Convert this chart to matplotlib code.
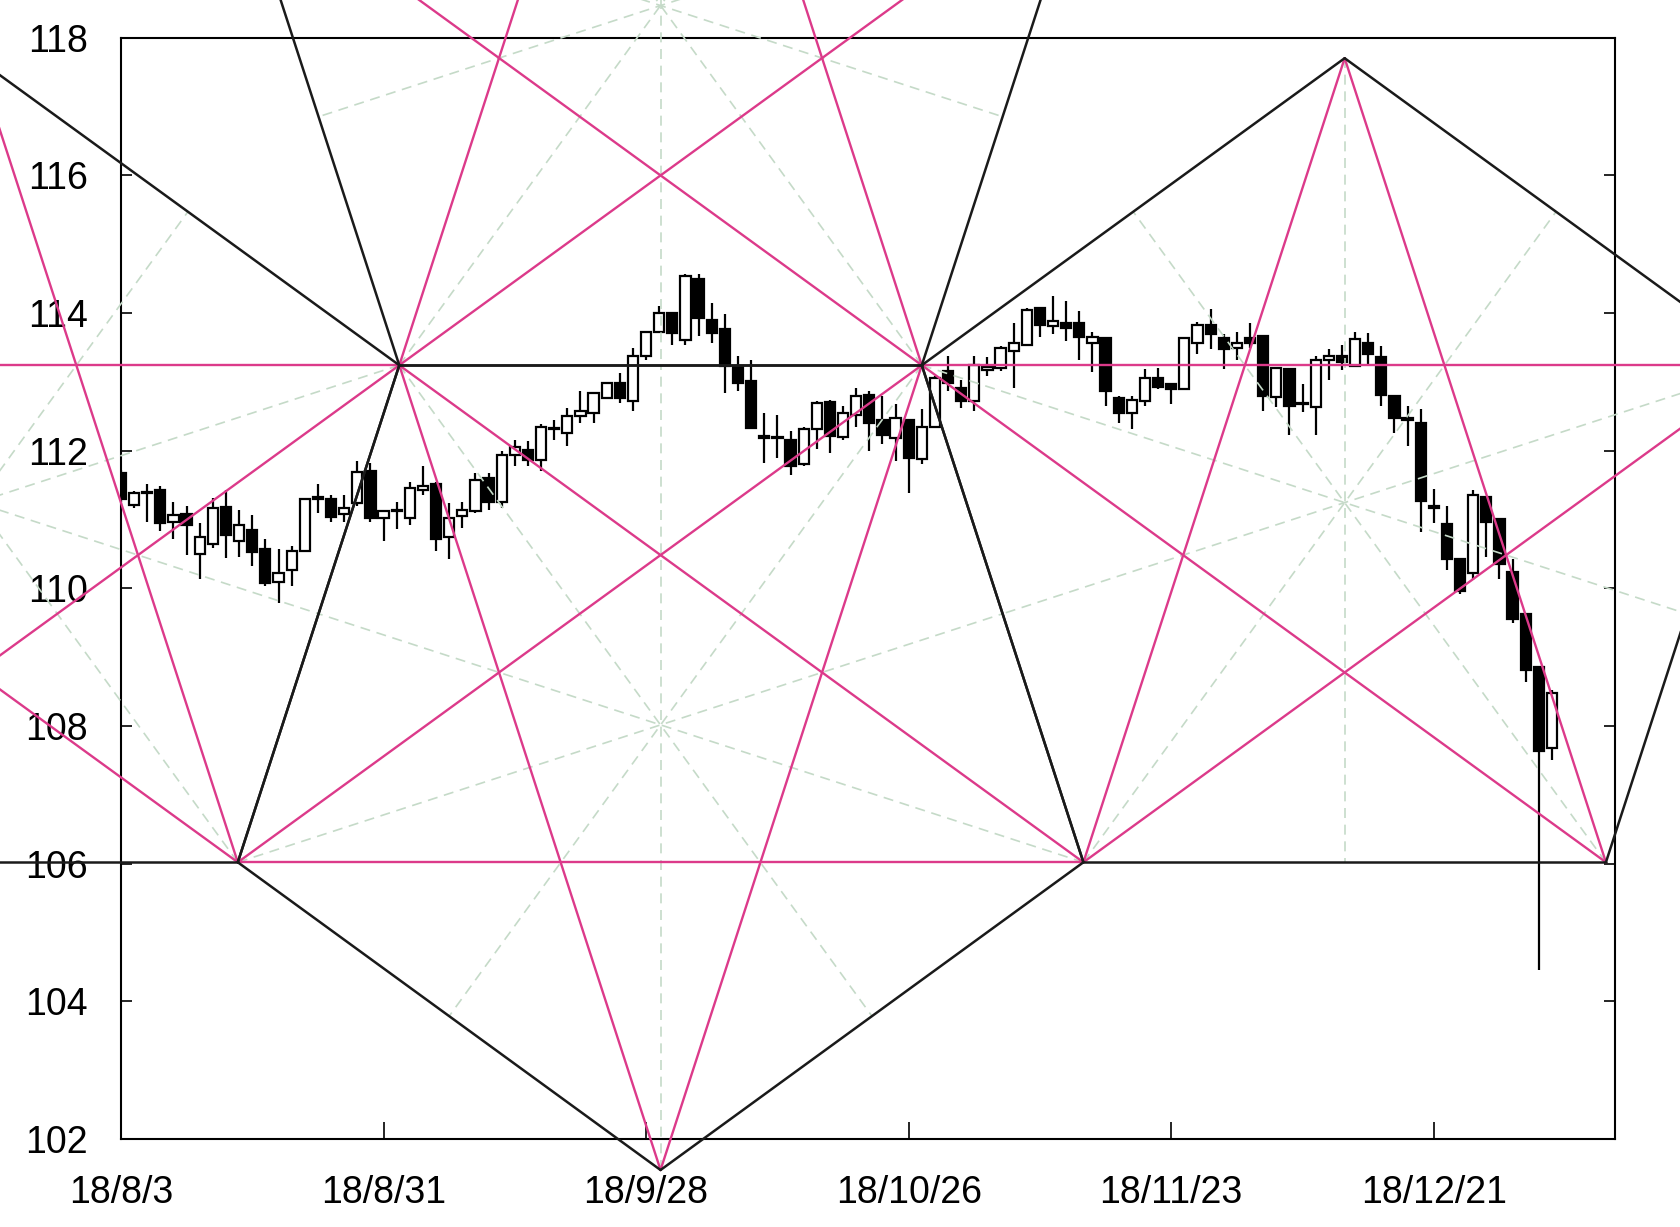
import matplotlib
matplotlib.use('Agg')
import matplotlib.pyplot as plt

# daily candles, USD/JPY, 18/8/3 .. 19/1/3 (one entry per trading day)
opens = [111.68, 111.21, 111.38, 111.43, 110.96, 111.08, 110.50, 110.65, 111.18, 110.69,
         110.84, 110.57, 110.09, 110.26, 110.54, 111.32, 111.30, 111.08, 111.24, 111.70,
         111.02, 111.12, 111.02, 111.43, 111.51, 110.75, 111.05, 111.12, 111.60, 111.26,
         111.93, 112.01, 111.87, 112.31, 112.26, 112.50, 112.55, 112.77, 112.98, 112.72,
         113.37, 113.73, 114.00, 113.61, 114.49, 113.90, 113.76, 113.23, 113.01, 112.21,
         112.19, 112.16, 111.80, 112.31, 112.70, 112.20, 112.51, 112.81, 112.45, 112.19,
         112.45, 111.88, 112.35, 113.15, 112.91, 112.72, 113.17, 113.20, 113.44, 113.53,
         114.07, 113.81, 113.86, 113.85, 113.57, 113.64, 112.77, 112.54, 112.72, 113.06,
         112.97, 112.90, 113.56, 113.82, 113.64, 113.49, 113.64, 113.66, 112.78, 113.19,
         112.68, 112.63, 113.31, 113.38, 113.23, 113.56, 113.36, 112.79, 112.47, 112.40,
         111.20, 110.93, 110.42, 110.22, 111.32, 111.00, 110.24, 109.62, 108.86, 107.68]
highs = [111.72, 111.42, 111.51, 111.48, 111.25, 111.19, 110.95, 111.31, 111.43, 111.13,
         111.07, 110.71, 110.57, 110.62, 111.31, 111.51, 111.36, 111.36, 111.85, 111.82,
         111.12, 111.26, 111.55, 111.77, 111.55, 111.24, 111.26, 111.68, 111.68, 111.99,
         112.16, 112.14, 112.38, 112.45, 112.62, 112.86, 112.84, 112.99, 113.13, 113.49,
         113.73, 114.10, 114.00, 114.56, 114.56, 114.15, 113.98, 113.37, 113.32, 112.55,
         112.51, 112.28, 112.35, 112.72, 112.74, 112.65, 112.91, 112.86, 112.79, 112.68,
         112.45, 112.60, 113.08, 113.37, 113.03, 113.37, 113.36, 113.52, 113.86, 114.07,
         114.07, 114.24, 114.17, 114.03, 113.72, 113.64, 112.79, 112.79, 113.18, 113.20,
         112.98, 113.65, 113.87, 114.05, 113.69, 113.72, 113.86, 113.66, 113.20, 113.19,
         112.97, 113.37, 113.47, 113.53, 113.73, 113.71, 113.52, 112.79, 112.65, 112.60,
         111.44, 111.20, 110.42, 111.43, 111.32, 111.00, 110.42, 109.62, 108.86, 108.52]
lows = [111.25, 111.17, 110.97, 110.83, 110.72, 110.49, 110.13, 110.59, 110.44, 110.46,
        110.32, 110.03, 109.79, 110.03, 110.53, 111.10, 110.96, 110.97, 111.19, 110.96,
        110.68, 110.86, 110.92, 111.36, 110.54, 110.42, 110.88, 111.09, 111.14, 111.17,
        111.77, 111.77, 111.70, 112.16, 112.06, 112.40, 112.40, 112.76, 112.69, 112.57,
        113.32, 113.71, 113.54, 113.54, 113.66, 113.56, 112.84, 112.86, 112.33, 111.82,
        111.89, 111.65, 111.77, 112.02, 111.96, 112.16, 112.35, 111.99, 112.09, 111.85,
        111.38, 111.80, 112.33, 112.86, 112.62, 112.57, 113.08, 113.15, 112.91, 113.52,
        113.65, 113.69, 113.59, 113.32, 113.14, 112.65, 112.40, 112.32, 112.65, 112.89,
        112.68, 112.89, 113.41, 113.47, 113.19, 113.32, 113.49, 112.57, 112.64, 112.22,
        112.56, 112.22, 113.03, 113.17, 113.22, 113.25, 112.65, 112.26, 112.07, 110.82,
        110.95, 110.27, 109.92, 110.12, 110.45, 110.13, 109.49, 108.64, 104.45, 107.50]
closes = [111.29, 111.38, 111.40, 110.95, 111.07, 110.92, 110.74, 111.17, 110.77, 110.92,
          110.52, 110.07, 110.22, 110.54, 111.30, 111.29, 111.04, 111.17, 111.69, 111.02,
          111.12, 111.14, 111.46, 111.48, 110.71, 111.02, 111.14, 111.58, 111.26, 111.94,
          112.05, 111.87, 112.35, 112.33, 112.50, 112.57, 112.84, 112.98, 112.77, 113.37,
          113.73, 114.00, 113.71, 114.53, 113.93, 113.71, 113.23, 112.98, 112.33, 112.18,
          112.18, 111.77, 112.32, 112.69, 112.21, 112.55, 112.80, 112.40, 112.22, 112.47,
          111.89, 112.35, 113.06, 112.98, 112.72, 113.25, 113.21, 113.49, 113.57, 114.04,
          113.83, 113.88, 113.78, 113.65, 113.65, 112.86, 112.55, 112.74, 113.06, 112.93,
          112.90, 113.64, 113.82, 113.69, 113.47, 113.57, 113.57, 112.80, 113.20, 112.65,
          112.69, 113.32, 113.38, 113.28, 113.62, 113.41, 112.81, 112.47, 112.44, 111.27,
          111.17, 110.43, 109.96, 111.35, 110.96, 110.35, 109.56, 108.82, 107.64, 108.48]

tick_pos = [0, 20, 40, 60, 80, 100]
tick_labels = ['18/8/3', '18/8/31', '18/9/28', '18/10/26', '18/11/23', '18/12/21']
y_ticks = [102, 104, 106, 108, 110, 112, 114, 116, 118]

# pentagon vertices (x = trading day index, y = price)
A = (21.20, 113.24)
B = (61.00, 113.24)
D = (8.90, 106.02)
E = (73.31, 106.02)
G = (41.10, 101.55)
C = (93.21, 117.70)
X = (125.41, 113.24)
F = (113.11, 106.02)
UL = (8.90, 120.46)
UR = (73.31, 120.46)
TOP = (41.10, 124.93)
L_TOP = (-11.00, 117.70)
L_LEFT = (-43.20, 113.24)
L_LOW = (-30.90, 106.02)

# each pentagon listed in cyclic order
pentagons = [
    [A, B, E, G, D],
    [B, C, X, F, E],
    [A, B, UR, TOP, UL],
    [A, D, L_LOW, L_LEFT, L_TOP],
]

EDGE = '#1a1a1a'
STAR = '#dc3a8a'
AXIS = '#c5dac8'


def _seg(ax, p, q, **kw):
    ax.plot([p[0], q[0]], [p[1], q[1]], clip_on=False, solid_capstyle='round', **kw)


def draw_candles(ax):
    for i in range(len(opens)):
        o, h, l, c = opens[i], highs[i], lows[i], closes[i]
        ax.vlines(i, l, h, color='black', linewidth=1.6, zorder=2)
        bottom = min(o, c)
        height = max(abs(c - o), 0.015)
        face = 'white' if c >= o else 'black'
        ax.bar(i, height, bottom=bottom, width=0.78, facecolor=face,
               edgecolor='black', linewidth=1.6, zorder=2)


def draw_pentagons(ax):
    for pent in pentagons:
        n = len(pent)
        # symmetry axes: vertex -> midpoint of opposite edge
        for k in range(n):
            p = pent[(k + 2) % n]
            q = pent[(k + 3) % n]
            mid = ((p[0] + q[0]) / 2, (p[1] + q[1]) / 2)
            _seg(ax, pent[k], mid, color=AXIS, linewidth=1.2,
                 linestyle=(0, (6, 4)), zorder=3)
    for pent in pentagons:
        n = len(pent)
        for k in range(n):
            _seg(ax, pent[k], pent[(k + 2) % n], color=STAR, linewidth=1.7, zorder=4)
    for pent in pentagons:
        n = len(pent)
        for k in range(n):
            _seg(ax, pent[k], pent[(k + 1) % n], color=EDGE, linewidth=1.8, zorder=5)


plt.rcParams['font.family'] = ['Liberation Sans', 'DejaVu Sans']

fig = plt.figure(figsize=(16.8, 12.27), dpi=100)
fig.patch.set_facecolor('white')
ax = fig.add_axes([0.0720, 0.0717, 0.8893, 0.8977])

draw_candles(ax)
draw_pentagons(ax)

ax.set_xlim(0, 113.8)
ax.set_ylim(102, 118)
ax.set_xticks(tick_pos)
ax.set_xticklabels(tick_labels)
ax.set_yticks(y_ticks)
ax.set_yticklabels([str(v) for v in y_ticks])

for s in ax.spines.values():
    s.set_linewidth(1.5)
    s.set_color('black')
ax.tick_params(axis='y', direction='in', length=8, width=1.2, left=True, right=True,
               labelsize=27, pad=24)
ax.tick_params(axis='x', direction='in', length=12, width=1.2, top=False,
               labelsize=27, pad=26)

fig.savefig('out.png', dpi=100, facecolor=fig.get_facecolor())
plt.close(fig)
